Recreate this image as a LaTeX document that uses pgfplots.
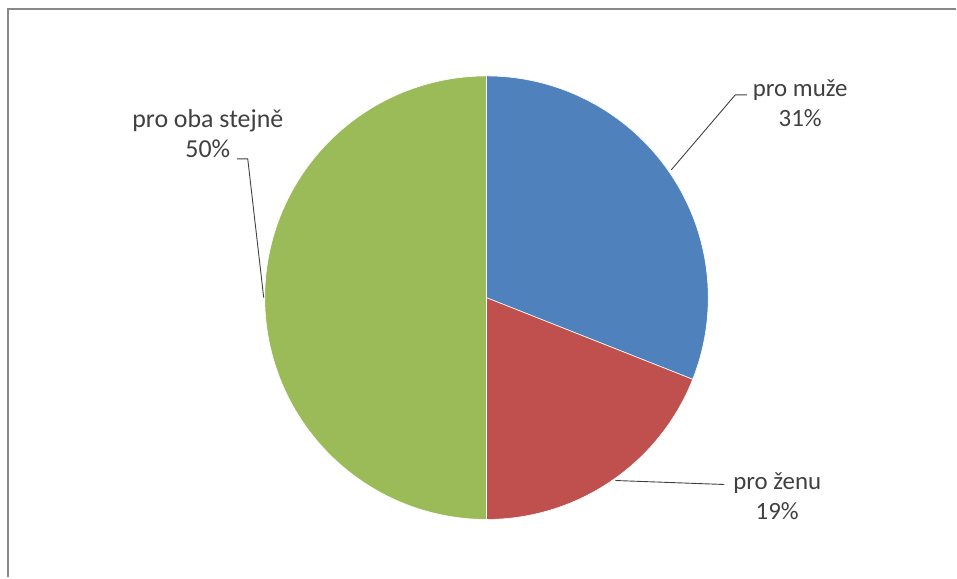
\documentclass[border=0pt]{standalone}
\usepackage{fontspec}
\setmainfont{Carlito}
\usepackage{pgfplots}
\usepackage{pgfplotstable}
\pgfplotsset{compat=1.18}
\definecolor{cblue}{HTML}{4F81BD}
\definecolor{cred}{HTML}{C0504D}
\definecolor{cgreen}{HTML}{9BBB59}
\definecolor{ctext}{HTML}{404040}
\definecolor{cframe}{HTML}{888888}
\pgfplotstableread{
label value
muze 31
zenu 19
oba 50
}\piedata
\begin{document}
\begin{tikzpicture}
\pgfplotstablegetelem{0}{value}\of\piedata \let\va\pgfplotsretval
\pgfplotstablegetelem{1}{value}\of\piedata \let\vb\pgfplotsretval
\pgfplotstablegetelem{2}{value}\of\piedata \let\vc\pgfplotsretval
\pgfmathsetmacro\aA{3.6*\va}
\pgfmathsetmacro\aB{3.6*(\va+\vb)}
\pgfmathsetmacro\aC{3.6*(\va+\vb+\vc)}
\begin{axis}[width=957bp, height=578bp, scale only axis,
  xmin=0, xmax=957, ymin=0, ymax=578, y dir=reverse,
  hide axis, clip=false]
\path (axis cs:0,0) rectangle (axis cs:957,578);
\addplot[fill=cblue, draw=white, line width=0.6bp, domain=0:\aA, samples=90, variable=\t]
  ({487+222*sin(\t)},{298-222*cos(\t)}) -- (axis cs:487,298) -- cycle;
\addplot[fill=cred, draw=white, line width=0.6bp, domain=\aA:\aB, samples=60, variable=\t]
  ({487+222*sin(\t)},{298-222*cos(\t)}) -- (axis cs:487,298) -- cycle;
\addplot[fill=cgreen, draw=white, line width=0.6bp, domain=\aB:\aC, samples=120, variable=\t]
  ({487+222*sin(\t)},{298-222*cos(\t)}) -- (axis cs:487,298) -- cycle;
% frame
\draw[cframe, line width=2bp] (axis cs:8,578) -- (axis cs:8,9) -- (axis cs:957,9);
% leader lines
\draw[black!75, line width=0.9bp] (axis cs:748,95) -- (axis cs:736,95) -- (axis cs:672,170);
\draw[black!75, line width=0.9bp] (axis cs:616,481) -- (axis cs:725,485);
\draw[black!75, line width=0.9bp] (axis cs:237,159) -- (axis cs:248,159) -- (axis cs:264,298);
% labels
\node[align=center, text=ctext, font=\fontsize{25}{30}\selectfont, inner sep=0pt] at (axis cs:801,103) {pro muže\\31\%};
\node[align=center, text=ctext, font=\fontsize{25}{30}\selectfont, inner sep=0pt] at (axis cs:778,497) {pro ženu\\19\%};
\node[align=center, text=ctext, font=\fontsize{26}{30}\selectfont, inner sep=0pt] at (axis cs:208,134) {pro oba stejně\\50\%};
\end{axis}
\end{tikzpicture}
\end{document}
